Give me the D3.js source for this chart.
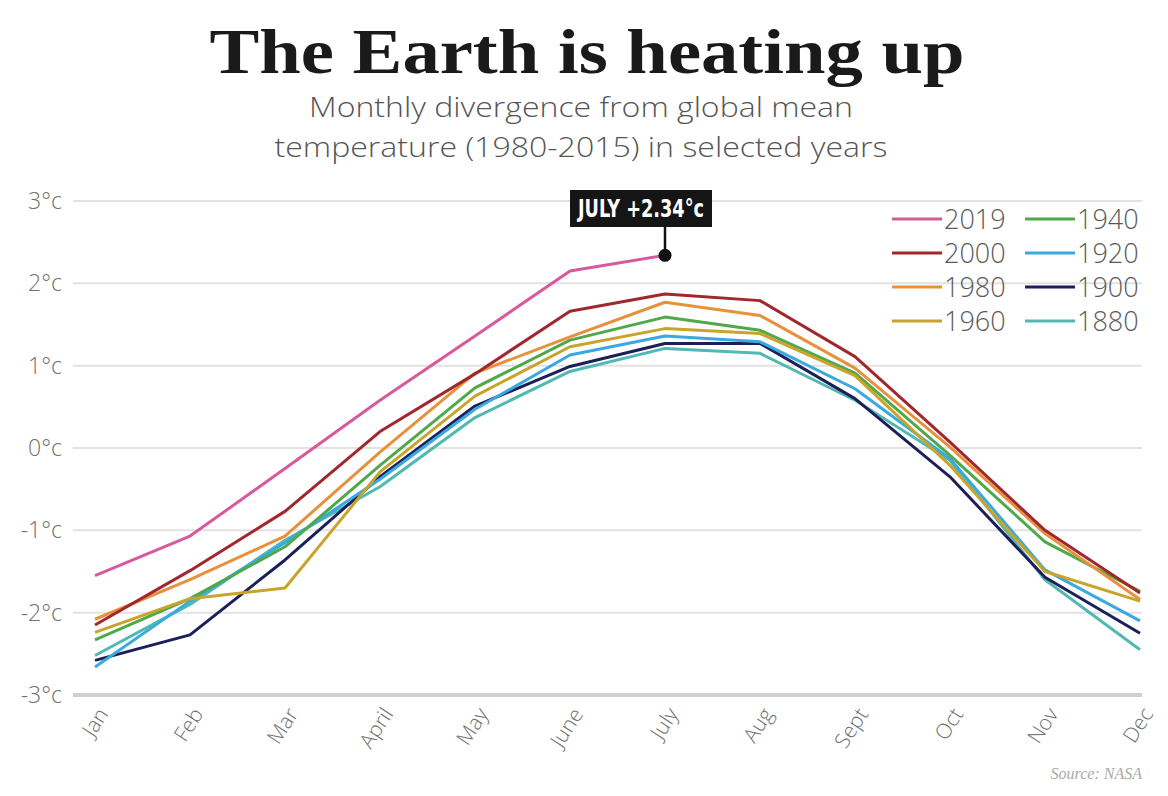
<!DOCTYPE html>
<meta charset="utf-8">
<style>
  body { margin: 0; background: #fff; }
  svg { display: block; }
</style>
<svg></svg>
<script src="https://d3js.org/d3.v7.min.js"></script>
<script>
// DATA
var months = ["Jan", "Feb", "Mar", "April", "May", "June", "July", "Aug", "Sept", "Oct", "Nov", "Dec"];
var yTicks = [3, 2, 1, 0, -1, -2, -3];

// monthly divergence in degrees C
var yr2019 = [-1.55, -1.07, -0.25, 0.58, 1.36, 2.15, 2.34];
var yr2000 = [-2.15, -1.49, -0.77, 0.20, 0.90, 1.66, 1.87, 1.79, 1.11, 0.07, -1.00, -1.76];
var yr1980 = [-2.08, -1.60, -1.07, -0.05, 0.91, 1.35, 1.77, 1.61, 0.97, 0.01, -1.04, -1.84];
var yr1960 = [-2.24, -1.83, -1.70, -0.29, 0.63, 1.23, 1.45, 1.39, 0.88, -0.21, -1.50, -1.86];
var yr1940 = [-2.33, -1.83, -1.20, -0.21, 0.73, 1.31, 1.59, 1.43, 0.91, -0.09, -1.14, -1.74];
var yr1920 = [-2.66, -1.86, -1.15, -0.38, 0.47, 1.13, 1.36, 1.29, 0.72, -0.13, -1.48, -2.10];
var yr1900 = [-2.58, -2.27, -1.36, -0.35, 0.51, 0.99, 1.27, 1.27, 0.60, -0.35, -1.57, -2.25];
var yr1880 = [-2.52, -1.90, -1.12, -0.47, 0.37, 0.93, 1.21, 1.15, 0.58, -0.15, -1.60, -2.45];

var years = ["2019", "2000", "1980", "1960", "1940", "1920", "1900", "1880"];
var values = [yr2019, yr2000, yr1980, yr1960, yr1940, yr1920, yr1900, yr1880];
var colors = ["#d65a9c", "#a1272d", "#e8903c", "#c9a42c", "#4fa84a", "#3aa9e0", "#1b1f5a", "#52b9b2"];

var note = { month: "July", value: 2.34, label: "JULY +2.34\u00b0c" };

// SVG SETUP
var W = 1168, H = 796;
var svg = d3.select("svg").attr("width", W).attr("height", H);
svg.append("rect").attr("width", W).attr("height", H).attr("fill", "#fff");

var x = d3.scalePoint().domain(months).range([95, 1140]);
var y = d3.scaleLinear().domain([-3, 3]).range([695, 201]);

// TITLES
svg.append("text")
   .attr("x", 587).attr("y", 73)
   .attr("text-anchor", "middle")
   .attr("font-family", "'Liberation Serif', 'DejaVu Serif', serif")
   .attr("font-weight", "bold")
   .attr("font-size", 64)
   .attr("fill", "#1a1a1a")
   .attr("textLength", 755)
   .attr("lengthAdjust", "spacingAndGlyphs")
   .text("The Earth is heating up");

// subtitle lines with their drawn widths
var sub = ["Monthly divergence from global mean", "temperature (1980-2015) in selected years"];
var subWidth = [544, 613];
svg.selectAll(".sub")
   .data(sub)
   .enter().append("text")
   .attr("class", "sub")
   .attr("x", 581)
   .attr("y", function(d, i) { return 117 + i * 40; })
   .attr("text-anchor", "middle")
   .attr("font-family", "'Open Sans', sans-serif")
   .attr("font-weight", 300)
   .attr("font-size", 28)
   .attr("fill", "#555")
   .attr("textLength", function(d, i) { return subWidth[i]; })
   .attr("lengthAdjust", "spacingAndGlyphs")
   .text(function(d) { return d; });

// GRID + Y AXIS
var grid = svg.append("g");
grid.selectAll("line")
    .data(yTicks)
    .enter().append("line")
    .attr("x1", 73).attr("x2", 1142)
    .attr("y1", function(d) { return y(d); })
    .attr("y2", function(d) { return y(d); })
    .attr("stroke", function(d) { return d === -3 ? "#cfcfcf" : "#e2e2e2"; })
    .attr("stroke-width", function(d) { return d === -3 ? 4 : 2; });

grid.selectAll("text")
    .data(yTicks)
    .enter().append("text")
    .attr("x", 62)
    .attr("y", function(d) { return y(d); })
    .attr("dy", "0.35em")
    .attr("text-anchor", "end")
    .attr("font-family", "'Open Sans', sans-serif")
    .attr("font-weight", 300)
    .attr("font-size", 23)
    .attr("fill", "#707070")
    .text(function(d) { return d + "\u00b0c"; });

// X AXIS LABELS
svg.selectAll(".month")
   .data(months)
   .enter().append("text")
   .attr("class", "month")
   .attr("text-anchor", "end")
   .attr("font-family", "'Open Sans', sans-serif")
   .attr("font-weight", 300)
   .attr("font-size", 21)
   .attr("fill", "#707070")
   .attr("transform", function(d) { return "translate(" + (x(d) + 14) + ",714) rotate(-57)"; })
   .text(function(d) { return d; });

// LINES
var line = d3.line()
    .x(function(d, i) { return x(months[i]); })
    .y(function(d) { return y(d); });

svg.append("g")
   .selectAll("path")
   .data(values.map(function(v, i) { return { v: v, c: colors[i] }; }).reverse())
   .enter().append("path")
   .attr("d", function(d) { return line(d.v); })
   .attr("fill", "none")
   .attr("stroke", function(d) { return d.c; })
   .attr("stroke-width", 3)
   .attr("stroke-linejoin", "round");

// ANNOTATION
var nx = x(note.month), ny = y(note.value);
svg.append("line")
   .attr("x1", nx).attr("x2", nx)
   .attr("y1", 226).attr("y2", ny)
   .attr("stroke", "#111").attr("stroke-width", 2.5);
svg.append("circle")
   .attr("cx", nx).attr("cy", ny).attr("r", 6.5)
   .attr("fill", "#111");
svg.append("rect")
   .attr("x", 570).attr("y", 190)
   .attr("width", 142).attr("height", 37)
   .attr("fill", "#151515");
svg.append("text")
   .attr("x", 641).attr("y", 217)
   .attr("text-anchor", "middle")
   .attr("font-family", "'Liberation Sans Narrow', 'DejaVu Sans Condensed', 'Roboto', sans-serif")
   .attr("font-weight", "bold")
   .attr("font-size", 25)
   .attr("fill", "#fff")
   .attr("textLength", 126)
   .attr("lengthAdjust", "spacingAndGlyphs")
   .text(note.label);

// LEGEND
var legend = svg.append("g");
var items = legend.selectAll("g")
    .data(years)
    .enter().append("g")
    .attr("transform", function(d, i) {
      var col = Math.floor(i / 4), row = i % 4;
      return "translate(" + (892 + col * 133) + "," + (219 + row * 34) + ")";
    });
items.append("line")
     .attr("x1", 0).attr("x2", 50)
     .attr("stroke", function(d, i) { return colors[i]; })
     .attr("stroke-width", 3);
items.append("text")
     .attr("x", 52)
     .attr("dy", "0.36em")
     .attr("font-family", "'Open Sans', sans-serif")
     .attr("font-weight", 300)
     .attr("font-size", 27)
     .attr("fill", "#5a5a5a")
     .text(function(d) { return d; });

// SOURCE
svg.append("text")
   .attr("x", 1142).attr("y", 779)
   .attr("text-anchor", "end")
   .attr("font-family", "'Liberation Serif', serif")
   .attr("font-style", "italic")
   .attr("font-size", 16)
   .attr("fill", "#aaa")
   .text("Source: NASA");
</script>
